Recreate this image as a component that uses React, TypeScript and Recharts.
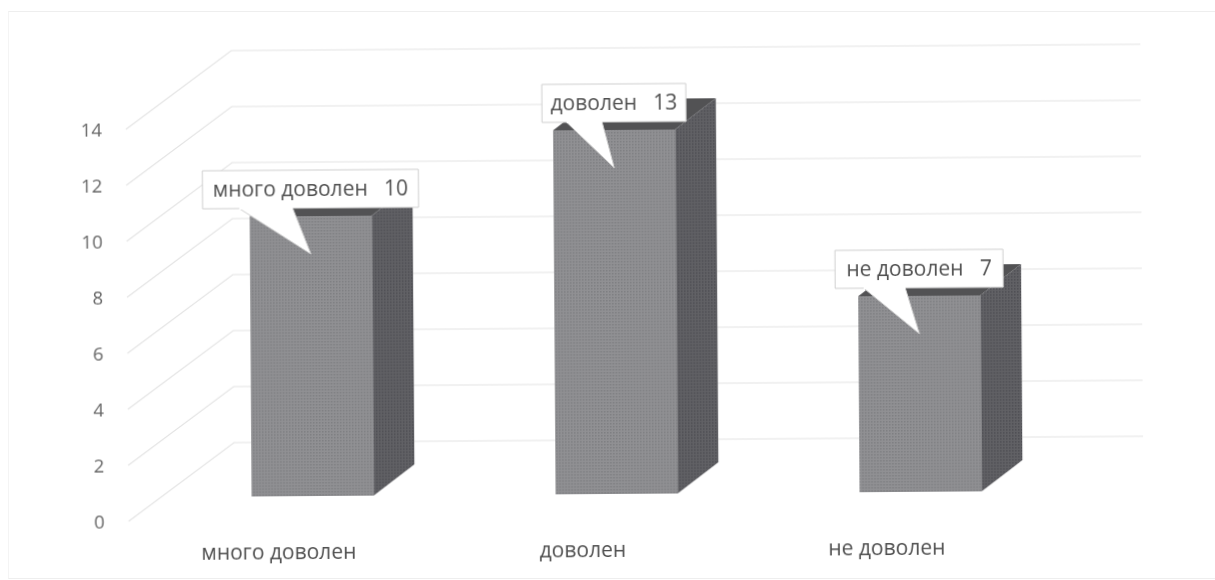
import { BarChart, Bar, XAxis, YAxis, CartesianGrid, LabelList } from "recharts";

const categories = ["много доволен", "доволен", "не доволен"];
const satisfied = [10, 13, 7];
const yTicks = [0, 2, 4, 6, 8, 10, 12, 14];

const data = categories.map((name, i) => ({ name, value: satisfied[i] }));

const FONT = "'Open Sans', sans-serif";
const TEXT = "#4f4f4f";
const GRID = "#e4e4e4";

// 3d offsets, the bars stand in the middle of the floor
const DEPTH_X = 41;
const DEPTH_Y = 31;

const GridLine = ({ x1, x2, y1 }: any) => {
  if (y1 === undefined) return null;
  const points = [
    [x1 - 32, y1 + 24],
    [x1 + 74, y1 - 54],
    [x2 + 71, y1 - 54],
  ];
  return <polyline points={points.map((p) => p.join(",")).join(" ")} fill="none" stroke={GRID} strokeWidth={1.2} />;
};

const Bar3D = ({ x, y, width, height }: any) => {
  const right = x + width;
  const bottom = y + height;
  return (
    <g>
      <polygon
        points={`${x},${y} ${right},${y} ${right + DEPTH_X},${y - DEPTH_Y} ${x + DEPTH_X},${y - DEPTH_Y}`}
        fill="#525254"
      />
      <polygon
        points={`${right},${y} ${right + DEPTH_X},${y - DEPTH_Y} ${right + DEPTH_X},${bottom - DEPTH_Y} ${right},${bottom}`}
        fill="url(#sideDots)"
      />
      <rect x={x} y={y} width={width} height={height} fill="url(#frontDots)" />
    </g>
  );
};

const Callout = ({ x, y, width, value, index }: any) => {
  const text = `${categories[index]}   ${value}`;
  const boxWidth = text.length * 12;
  const center = x + width / 2;
  const left = center - boxWidth / 2;
  const top = y - 46;
  const boxBottom = top + 38;
  const outline = [
    [left, top],
    [left + boxWidth, top],
    [left + boxWidth, boxBottom],
    [left + boxWidth * 0.417, boxBottom],
    [center, y + 38],
    [left + boxWidth * 0.17, boxBottom],
    [left, boxBottom],
  ];
  return (
    <g>
      <polygon points={outline.map((p) => p.join(",")).join(" ")} fill="#fff" stroke="#cfcfcf" strokeWidth={1} />
      <line x1={left + boxWidth * 0.17} y1={boxBottom} x2={left + boxWidth * 0.417} y2={boxBottom} stroke="#fff" strokeWidth={2} />
      <text
        x={center}
        y={top + 26}
        textAnchor="middle"
        fontFamily={FONT}
        fontSize={21}
        fill={TEXT}
        style={{ whiteSpace: "pre" }}
      >
        {text}
      </text>
    </g>
  );
};

const YTick = ({ y, payload }: any) => (
  <text x={103} y={y + 24 + 7} textAnchor="end" fontFamily={FONT} fontSize={18.5} fill="#666">
    {payload.value}
  </text>
);

const XTick = ({ x, y, payload }: any) => (
  <text x={x - 34} y={y + 55} textAnchor="middle" fontFamily={FONT} fontSize={21} fill={TEXT}>
    {payload.value}
  </text>
);

export default function App() {
  return (
    <div style={{ position: "absolute", left: 0, top: 0, width: 1215, height: 580, overflow: "hidden", background: "#fff" }}>
      <div
        style={{
          position: "absolute",
          left: 8,
          top: 11,
          width: 1215,
          height: 566,
          borderTop: "1px solid #eeeeee",
          borderBottom: "1px solid #eeeeee",
          borderLeft: "1px solid #f4f4f4",
        }}
      />
      <div style={{ position: "absolute", left: 0, top: 0, transform: "rotate(-0.4deg)", transformOrigin: "607px 290px", filter: "blur(0.35px)" }}>
        <BarChart
          width={1215}
          height={580}
          data={data}
          margin={{ top: 102, right: 144, bottom: 0, left: 99 }}
          barCategoryGap="30%"
        >
          <defs>
            <pattern id="frontDots" width="3" height="3" patternUnits="userSpaceOnUse">
              <rect width="3" height="3" fill="#909093" />
              <rect width="1.5" height="1.5" fill="#7e7f82" />
            </pattern>
            <pattern id="sideDots" width="3" height="3" patternUnits="userSpaceOnUse">
              <rect width="3" height="3" fill="#616165" />
              <rect width="1.5" height="1.5" fill="#4d4d52" />
            </pattern>
          </defs>
          <CartesianGrid vertical={false} horizontal={(props: any) => <GridLine key={props.key} {...props} />} />
          <XAxis dataKey="name" axisLine={false} tickLine={false} height={86} tick={<XTick />} interval={0} />
          <YAxis
            domain={[0, 14]}
            ticks={yTicks}
            width={60}
            axisLine={false}
            tickLine={false}
            tick={<YTick />}
            interval={0}
          />
          <Bar dataKey="value" isAnimationActive={false} shape={<Bar3D />}>
            <LabelList dataKey="value" content={<Callout />} />
          </Bar>
        </BarChart>
      </div>
    </div>
  );
}
